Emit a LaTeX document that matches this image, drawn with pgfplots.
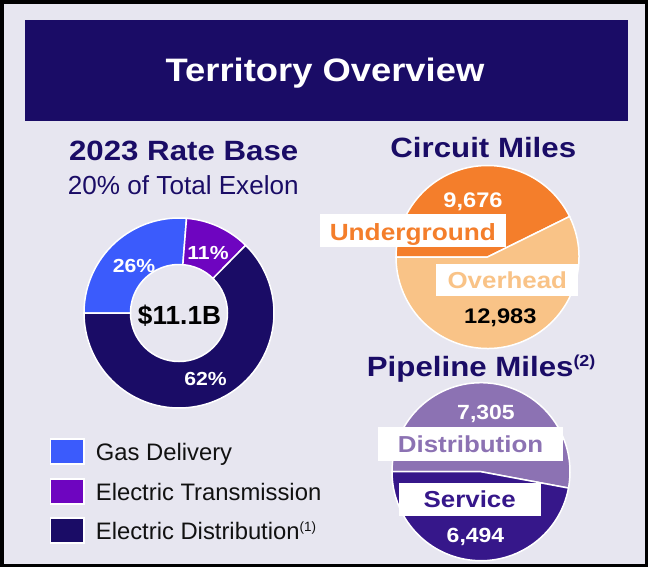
\documentclass[border=0pt]{standalone}
\usepackage{pgfplots}
\pgfplotsset{compat=1.18}
\usepackage{pgfplotstable}
\usepackage{fontspec}
\setmainfont{Liberation Sans}
\newfontfamily\wide[FakeStretch=1.12]{Liberation Sans}

\definecolor{bgc}{HTML}{E7E6F0}
\definecolor{navy}{HTML}{1A0C66}
\definecolor{gasblue}{HTML}{3B5BFC}
\definecolor{transpurple}{HTML}{6E05C0}
\definecolor{ugorange}{HTML}{F47E2B}
\definecolor{ohorange}{HTML}{F9C387}
\definecolor{distpurple}{HTML}{8C72B3}
\definecolor{servpurple}{HTML}{36178A}
\definecolor{txt}{HTML}{111111}

% ---------------- data ----------------
\pgfplotstableread{
segment value
Gas 26
Transmission 11
Distribution 62
}\ratebase
\pgfplotstableread{
segment value
Underground 9676
Overhead 12983
}\circuit
\pgfplotstableread{
segment value
Distribution 7305
Service 6494
}\pipeline

\pgfplotstablegetelem{0}{value}\of\ratebase \edef\rGas{\pgfplotsretval}
\pgfplotstablegetelem{1}{value}\of\ratebase \edef\rTra{\pgfplotsretval}
\pgfplotstablegetelem{2}{value}\of\ratebase \edef\rDis{\pgfplotsretval}
\pgfplotstablegetelem{0}{value}\of\circuit \edef\cUG{\pgfplotsretval}
\pgfplotstablegetelem{1}{value}\of\circuit \edef\cOH{\pgfplotsretval}
\pgfplotstablegetelem{0}{value}\of\pipeline \edef\pDI{\pgfplotsretval}
\pgfplotstablegetelem{1}{value}\of\pipeline \edef\pSE{\pgfplotsretval}

% angles (start at 180 deg, clockwise)
\edef\rT{\fpeval{\rGas+\rTra+\rDis}}
\edef\ra{\fpeval{180-360*\rGas/\rT}}
\edef\rb{\fpeval{\ra-360*\rTra/\rT}}
\edef\ca{\fpeval{180-360*\cUG/(\cUG+\cOH)}}
\edef\pa{\fpeval{180-360*\pDI/(\pDI+\pSE)}}

% donut slice: color, start, end
\newcommand\donut[3]{%
  \fill[#1, draw=white, line width=1.5bp]
    ([shift={(#2:95bp)}]axis cs:179,313) arc[start angle=#2, end angle=#3, radius=95bp]
    -- ([shift={(#3:48.5bp)}]axis cs:179,313) arc[start angle=#3, end angle=#2, radius=48.5bp] -- cycle;}
% pie slice: color, start, end, cx, cy, r
\newcommand\pie[6]{%
  \fill[#1, draw=white, line width=1.5bp]
    (axis cs:#4,#5) -- ([shift={(#2:#6bp)}]axis cs:#4,#5)
    arc[start angle=#2, end angle=#3, radius=#6bp] -- cycle;}

\begin{document}
\begin{tikzpicture}
\begin{axis}[
  scale only axis, width=648bp, height=567bp,
  xmin=0, xmax=648, ymin=0, ymax=567, y dir=reverse,
  hide axis, clip=false,
]
% background and frame
\fill[bgc] (axis cs:0,0) rectangle (axis cs:648,567);
\draw[black, line width=3.5bp] (axis cs:1.75,1.75) rectangle (axis cs:646.25,565.25);
% banner
\fill[navy] (axis cs:25,20) rectangle (axis cs:627.5,120.5);
\node[anchor=base, inner sep=0, text=white] at (axis cs:325,81.7)
  {\wide\bfseries\fontsize{32.6}{36}\selectfont Territory Overview};

% ---------- rate base donut ----------
\node[anchor=base, inner sep=0, text=navy] at (axis cs:183.7,160)
  {\wide\bfseries\fontsize{28}{32}\selectfont 2023 Rate Base};
\node[anchor=base, inner sep=0, text=navy] at (axis cs:183.3,194)
  {\fontsize{26.2}{30}\selectfont 20\% of Total Exelon};
\donut{gasblue}{180}{\ra}
\donut{transpurple}{\ra}{\rb}
\donut{navy}{\rb}{-180}
\node[anchor=base, inner sep=0, text=white] at (axis cs:134,272.7)
  {\wide\bfseries\fontsize{19}{22}\selectfont 26\%};
\node[anchor=base, inner sep=0, text=white] at (axis cs:208,259.3)
  {\wide\bfseries\fontsize{19}{22}\selectfont 11\%};
\node[anchor=base, inner sep=0, text=white] at (axis cs:205.5,385.7)
  {\wide\bfseries\fontsize{19}{22}\selectfont 62\%};
\node[anchor=base, inner sep=0, text=black] at (axis cs:179.5,324)
  {\bfseries\fontsize{26.3}{30}\selectfont \$11.1B};

% legend
\fill[gasblue, draw=white, line width=1.2bp] (axis cs:50.7,439) rectangle (axis cs:84,464);
\fill[transpurple, draw=white, line width=1.2bp] (axis cs:50.7,479) rectangle (axis cs:84,504);
\fill[navy, draw=white, line width=1.2bp] (axis cs:50.7,518) rectangle (axis cs:84,543);
\node[anchor=base west, inner sep=0, text=txt] at (axis cs:95.7,460)
  {\fontsize{23.9}{27}\selectfont Gas Delivery};
\node[anchor=base west, inner sep=0, text=txt] at (axis cs:95.7,500.5)
  {\fontsize{23.9}{27}\selectfont Electric Transmission};
\node[anchor=base west, inner sep=0, text=txt] at (axis cs:95.7,539.5)
  {\fontsize{23.9}{27}\selectfont Electric Distribution\raisebox{8.5bp}{\fontsize{13.5}{14}\selectfont(1)}};

% ---------- circuit miles ----------
\node[anchor=base, inner sep=0, text=navy] at (axis cs:483.3,157.3)
  {\wide\bfseries\fontsize{28}{32}\selectfont Circuit Miles};
\pie{ugorange}{180}{\ca}{487.5}{257}{91.5}
\pie{ohorange}{\ca}{-180}{487.5}{257}{91.5}
\node[anchor=base, inner sep=0, text=white] at (axis cs:473,207.3)
  {\wide\bfseries\fontsize{21.2}{24}\selectfont 9,676};
\node[anchor=base, inner sep=0, text=black] at (axis cs:500.3,323.3)
  {\wide\bfseries\fontsize{21.2}{24}\selectfont 12,983};
\fill[white] (axis cs:320,214) rectangle (axis cs:505.7,247);
\node[anchor=base, inner sep=0, text=ugorange] at (axis cs:412.8,240.7)
  {\wide\bfseries\fontsize{23.5}{26}\selectfont Underground};
\fill[white] (axis cs:436,264) rectangle (axis cs:578,296);
\node[anchor=base, inner sep=0, text=ohorange] at (axis cs:507.3,288.3)
  {\wide\bfseries\fontsize{23.2}{26}\selectfont Overhead};

% ---------- pipeline miles ----------
\node[anchor=base west, inner sep=0, text=navy] at (axis cs:366.7,376.7)
  {\wide\bfseries\fontsize{28}{32}\selectfont Pipeline Miles\raisebox{10bp}{\fontsize{16}{18}\selectfont(2)}};
\pie{distpurple}{180}{\pa}{481}{471.7}{89}
\pie{servpurple}{\pa}{-180}{481}{471.7}{89}
\node[anchor=base, inner sep=0, text=white] at (axis cs:486,419.3)
  {\wide\bfseries\fontsize{20.6}{24}\selectfont 7,305};
\node[anchor=base, inner sep=0, text=white] at (axis cs:475.5,542.3)
  {\wide\bfseries\fontsize{20.6}{24}\selectfont 6,494};
\fill[white] (axis cs:377.7,427.3) rectangle (axis cs:563.3,460.7);
\node[anchor=base, inner sep=0, text=distpurple] at (axis cs:470.5,452.7)
  {\wide\bfseries\fontsize{23.2}{26}\selectfont Distribution};
\fill[white] (axis cs:399.3,482.7) rectangle (axis cs:541,515.7);
\node[anchor=base, inner sep=0, text=servpurple] at (axis cs:469.7,507.3)
  {\wide\bfseries\fontsize{23.2}{26}\selectfont Service};
\end{axis}
\end{tikzpicture}
\end{document}
